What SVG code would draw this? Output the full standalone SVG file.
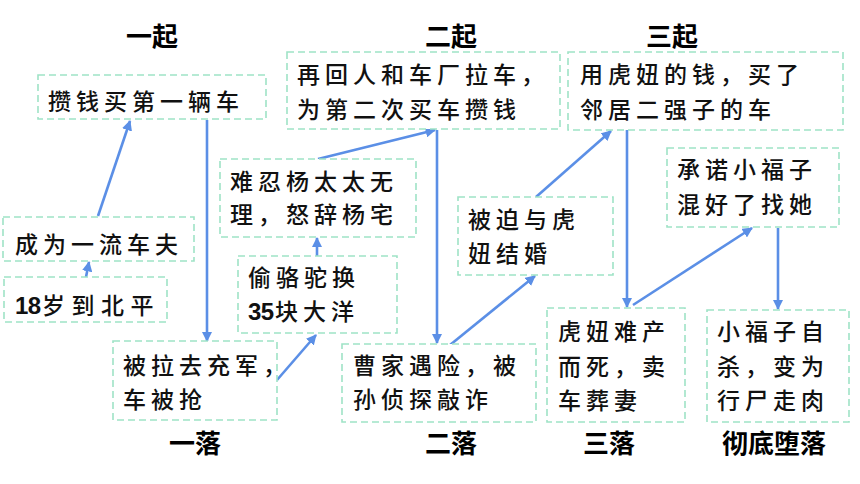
<svg xmlns="http://www.w3.org/2000/svg" width="860" height="484" viewBox="0 0 860 484">
<style>
.box{fill:#ffffff;stroke:#9fe3c6;stroke-width:1.6;stroke-dasharray:7 4}
.t{font-family:"Noto Sans CJK SC","Noto Sans",sans-serif;font-size:23px;font-weight:500;fill:#111;letter-spacing:5px}
.d{font-family:"Liberation Sans",Arial,sans-serif;font-size:24px;font-weight:bold;letter-spacing:-0.5px}
.h{font-family:"Noto Sans CJK SC","Noto Sans",sans-serif;font-size:26px;font-weight:bold;fill:#000;text-anchor:middle}
.c{stroke:#5b8fe6;stroke-width:2.6;fill:none;marker-end:url(#ah)}
</style>
<defs>
<marker id="ah" viewBox="0 0 10 10" refX="9" refY="5" markerWidth="4" markerHeight="4" orient="auto" markerUnits="strokeWidth">
<path d="M0,0 L10,5 L0,10 z" fill="#5b8fe6"/>
</marker>
</defs>
<rect width="860" height="484" fill="#ffffff"/>
<g id="titles">
<text class="h" x="152" y="46">一起</text>
<text class="h" x="451" y="46">二起</text>
<text class="h" x="672" y="46">三起</text>
<text class="h" x="195" y="453">一落</text>
<text class="h" x="451" y="453">二落</text>
<text class="h" x="609" y="453">三落</text>
<text class="h" x="774" y="453">彻底堕落</text>
</g>
<g id="connectors">
<line class="c" x1="98" y1="216" x2="130" y2="121"/>
<line class="c" x1="86" y1="277" x2="89" y2="262"/>
<line class="c" x1="207" y1="120" x2="207" y2="341"/>
<line class="c" x1="277" y1="380" x2="316" y2="335"/>
<line class="c" x1="317" y1="256" x2="317" y2="238"/>
<line class="c" x1="318" y1="159" x2="435" y2="130"/>
<line class="c" x1="437" y1="130" x2="437" y2="343"/>
<line class="c" x1="450" y1="345" x2="535" y2="276"/>
<line class="c" x1="536" y1="197" x2="611" y2="131"/>
<line class="c" x1="627" y1="130" x2="627" y2="307"/>
<line class="c" x1="633" y1="305" x2="752" y2="228"/>
<line class="c" x1="778" y1="228" x2="778" y2="309"/>
</g>
<g id="n1"><rect class="box" x="38" y="75" width="228" height="44"/><text class="t" x="48" y="110">攒钱买第一辆车</text></g>
<g id="n2"><rect class="box" x="287" y="52" width="273" height="77"/><text class="t" x="297" y="83">再回人和车厂拉车，</text><text class="t" x="297" y="118">为第二次买车攒钱</text></g>
<g id="n3"><rect class="box" x="568" y="52" width="275" height="78"/><text class="t" x="580" y="83">用虎妞的钱，买了</text><text class="t" x="580" y="118">邻居二强子的车</text></g>
<g id="n4"><rect class="box" x="220" y="159" width="196" height="78"/><text class="t" x="230" y="190">难忍杨太太无</text><text class="t" x="230" y="223">理，怒辞杨宅</text></g>
<g id="n5"><rect class="box" x="667" y="148" width="172" height="79"/><text class="t" x="677" y="178">承诺小福子</text><text class="t" x="677" y="213">混好了找她</text></g>
<g id="n6"><rect class="box" x="458" y="197" width="155" height="78"/><text class="t" x="468" y="228">被迫与虎</text><text class="t" x="468" y="262">妞结婚</text></g>
<g id="n7"><rect class="box" x="3" y="217" width="191" height="44"/><text class="t" x="15" y="253">成为一流车夫</text></g>
<g id="n8"><rect class="box" x="4" y="277" width="163" height="45"/><text class="t" x="15" y="314"><tspan class="d">18</tspan><tspan x="42" style="letter-spacing:6.5px">岁到北平</tspan></text></g>
<g id="n9"><rect class="box" x="238" y="256" width="159" height="77"/><text class="t" x="248" y="286">偷骆驼换</text><text class="t" x="248" y="320"><tspan class="d">35</tspan><tspan x="275">块大洋</tspan></text></g>
<g id="n10"><rect class="box" x="113" y="341" width="164" height="79"/><text class="t" x="123" y="374">被拉去充军，</text><text class="t" x="123" y="408">车被抢</text></g>
<g id="n11"><rect class="box" x="342" y="344" width="194" height="78"/><text class="t" x="353" y="374">曹家遇险，被</text><text class="t" x="353" y="408">孙侦探敲诈</text></g>
<g id="n12"><rect class="box" x="547" y="308" width="138" height="114"/><text class="t" x="558" y="340">虎妞难产</text><text class="t" x="558" y="375">而死，卖</text><text class="t" x="558" y="409">车葬妻</text></g>
<g id="n13"><rect class="box" x="707" y="310" width="142" height="112"/><text class="t" x="717" y="340">小福子自</text><text class="t" x="717" y="375">杀，变为</text><text class="t" x="717" y="409">行尸走肉</text></g>
</svg>
